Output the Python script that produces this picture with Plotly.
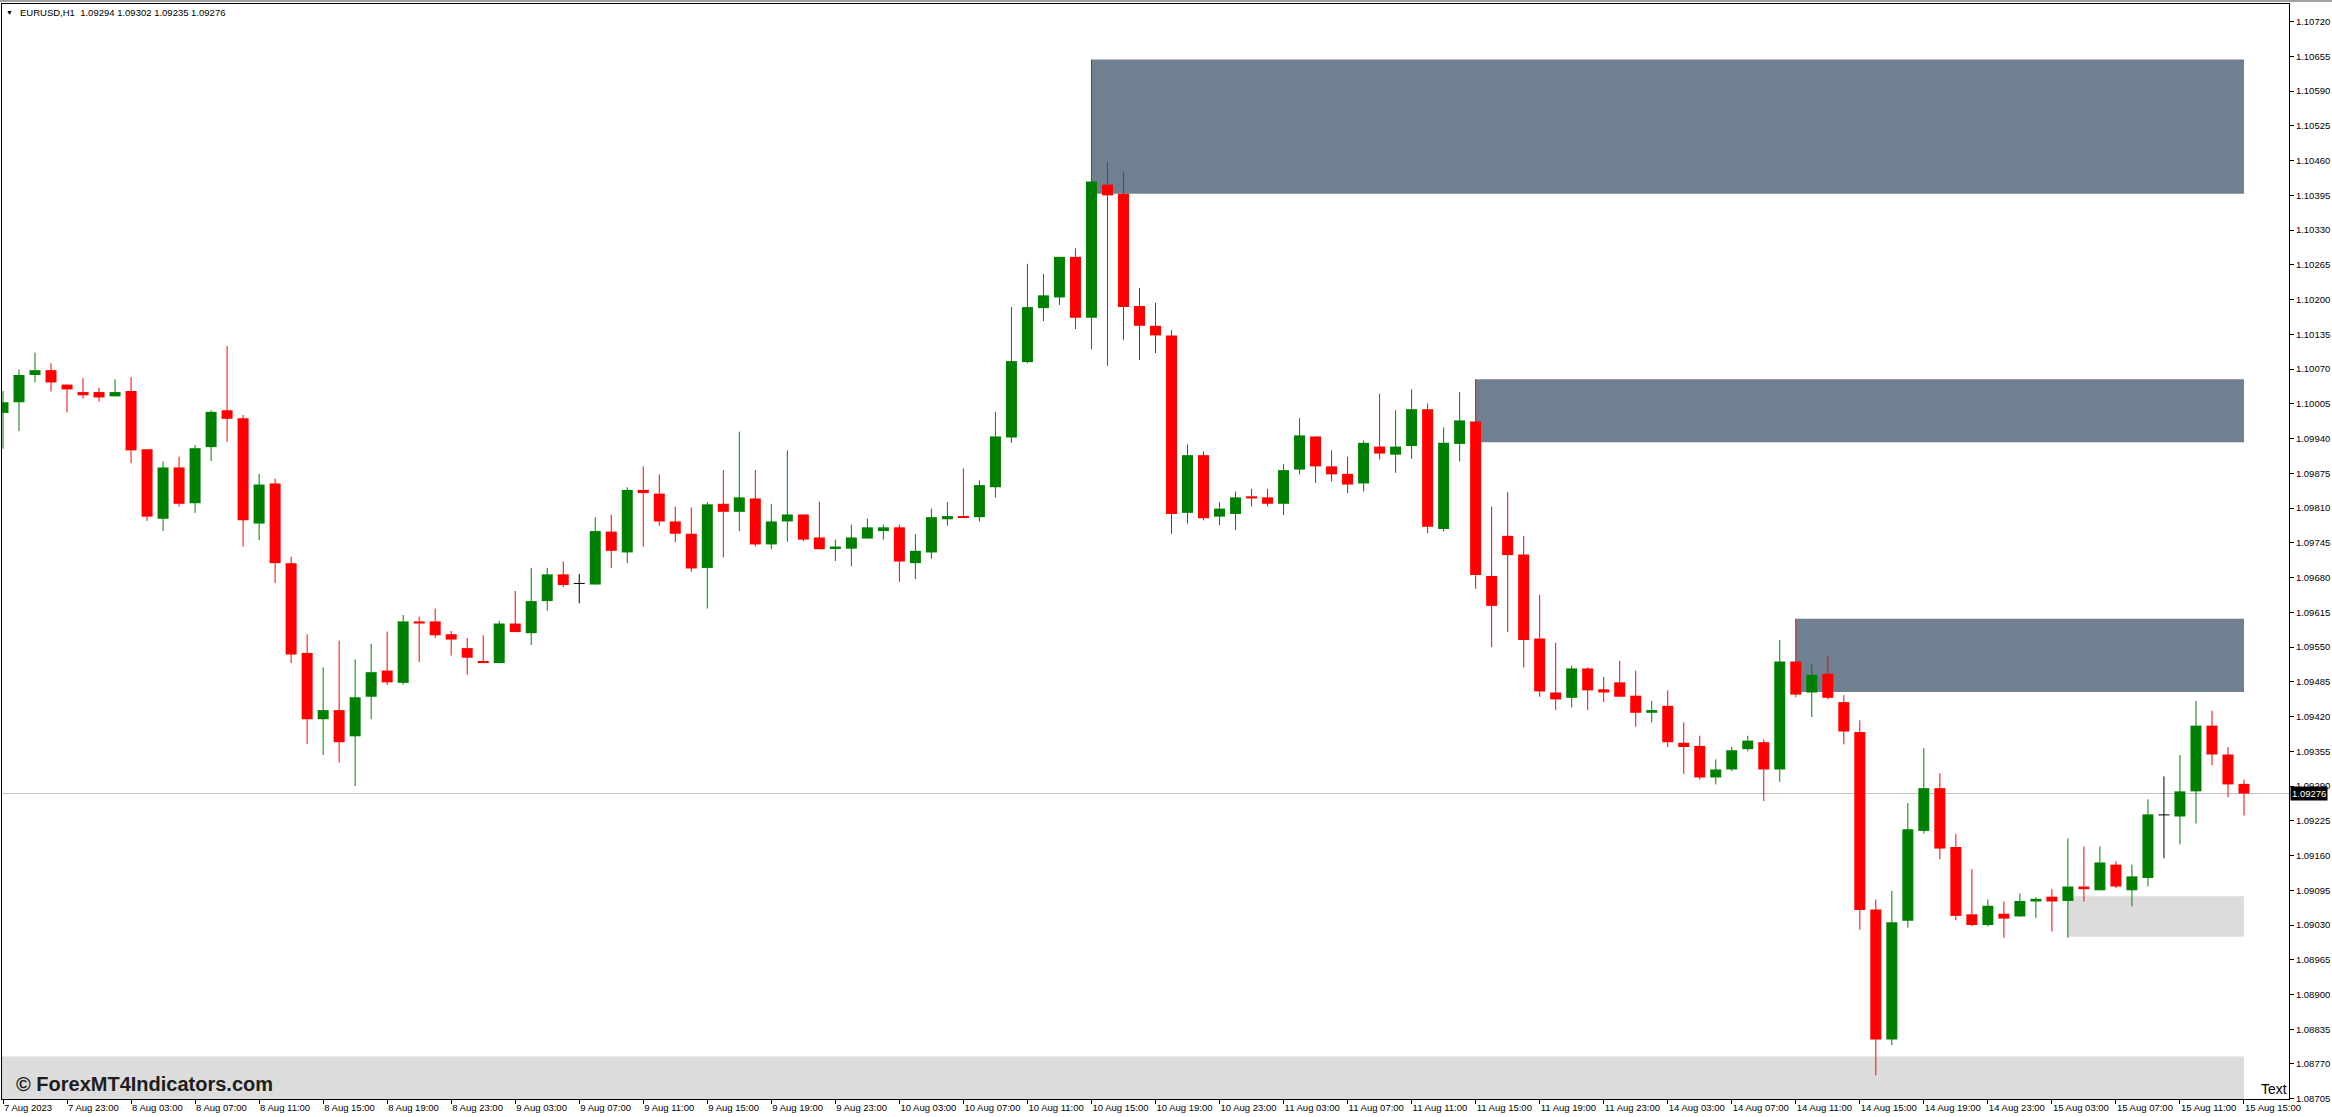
import plotly.graph_objects as go

# ---------------- data (EURUSD H1) ----------------
opens = [1.09988, 1.10008, 1.10059, 1.10068, 1.10041, 1.10027, 1.10027, 1.10019, 1.10029, 1.09920,
         1.09790, 1.09886, 1.09819, 1.09924, 1.09993, 1.09978, 1.09781, 1.09856, 1.09707, 1.09539,
         1.09415, 1.09432, 1.09383, 1.09457, 1.09506, 1.09483, 1.09598, 1.09598, 1.09574, 1.09548,
         1.09524, 1.09520, 1.09594, 1.09576, 1.09636, 1.09686, 1.09669, 1.09667, 1.09766, 1.09727,
         1.09844, 1.09837, 1.09785, 1.09762, 1.09698, 1.09818, 1.09803, 1.09828, 1.09742, 1.09785,
         1.09798, 1.09755, 1.09735, 1.09734, 1.09753, 1.09767, 1.09774, 1.09707, 1.09727, 1.09789,
         1.09795, 1.09793, 1.09849, 1.09942, 1.10083, 1.10184, 1.10204, 1.10280, 1.10166, 1.10415,
         1.10398, 1.10188, 1.10151, 1.10133, 1.09801, 1.09909, 1.09794, 1.09799, 1.09832, 1.09830,
         1.09818, 1.09882, 1.09944, 1.09888, 1.09874, 1.09856, 1.09925, 1.09910, 1.09926, 1.09995,
         1.09771, 1.09930, 1.09972, 1.09683, 1.09758, 1.09723, 1.09566, 1.09465, 1.09455, 1.09510,
         1.09471, 1.09484, 1.09459, 1.09427, 1.09440, 1.09371, 1.09365, 1.09306, 1.09321, 1.09359,
         1.09372, 1.09321, 1.09523, 1.09465, 1.09500, 1.09447, 1.09391, 1.09059, 1.08816, 1.09038,
         1.09206, 1.09286, 1.09176, 1.09050, 1.09030, 1.09051, 1.09046, 1.09074, 1.09083, 1.09075,
         1.09102, 1.09095, 1.09143, 1.09095, 1.09118, 1.09236, 1.09233, 1.09280, 1.09403, 1.09349,
         1.09294]
highs = [1.10029, 1.10069, 1.10101, 1.10081, 1.10041, 1.10053, 1.10035, 1.10051, 1.10055, 1.09920,
         1.09897, 1.09906, 1.09928, 1.09993, 1.10113, 1.09984, 1.09874, 1.09865, 1.09719, 1.09574,
         1.09512, 1.09562, 1.09527, 1.09556, 1.09579, 1.09610, 1.09607, 1.09622, 1.09580, 1.09567,
         1.09572, 1.09599, 1.09655, 1.09698, 1.09698, 1.09710, 1.09687, 1.09793, 1.09798, 1.09849,
         1.09888, 1.09873, 1.09813, 1.09811, 1.09821, 1.09881, 1.09953, 1.09881, 1.09818, 1.09918,
         1.09798, 1.09822, 1.09751, 1.09779, 1.09790, 1.09779, 1.09779, 1.09761, 1.09809, 1.09821,
         1.09884, 1.09862, 1.09990, 1.10186, 1.10267, 1.10248, 1.10280, 1.10296, 1.10649, 1.10458,
         1.10439, 1.10222, 1.10194, 1.10143, 1.09929, 1.09916, 1.09821, 1.09841, 1.09846, 1.09846,
         1.09892, 1.09978, 1.09944, 1.09918, 1.09906, 1.09936, 1.10024, 1.09993, 1.10032, 1.10006,
         1.09961, 1.10027, 1.10051, 1.09813, 1.09840, 1.09758, 1.09648, 1.09558, 1.09515, 1.09512,
         1.09494, 1.09524, 1.09506, 1.09449, 1.09469, 1.09409, 1.09384, 1.09340, 1.09363, 1.09384,
         1.09377, 1.09563, 1.09603, 1.09519, 1.09534, 1.09460, 1.09413, 1.09078, 1.09094, 1.09258,
         1.09361, 1.09314, 1.09200, 1.09134, 1.09078, 1.09074, 1.09089, 1.09082, 1.09097, 1.09192,
         1.09177, 1.09177, 1.09149, 1.09143, 1.09265, 1.09308, 1.09348, 1.09449, 1.09431, 1.09363,
         1.09302]
lows = [1.09921, 1.09954, 1.10045, 1.10028, 1.09989, 1.10015, 1.10009, 1.10019, 1.09894, 1.09786,
        1.09767, 1.09813, 1.09801, 1.09898, 1.09934, 1.09738, 1.09750, 1.09670, 1.09520, 1.09369,
        1.09348, 1.09334, 1.09290, 1.09415, 1.09479, 1.09480, 1.09522, 1.09567, 1.09534, 1.09498,
        1.09520, 1.09520, 1.09578, 1.09554, 1.09618, 1.09662, 1.09632, 1.09667, 1.09698, 1.09707,
        1.09738, 1.09777, 1.09746, 1.09691, 1.09622, 1.09718, 1.09767, 1.09738, 1.09733, 1.09747,
        1.09748, 1.09733, 1.09711, 1.09701, 1.09753, 1.09751, 1.09672, 1.09677, 1.09715, 1.09777,
        1.09793, 1.09785, 1.09830, 1.09932, 1.10081, 1.10160, 1.10190, 1.10145, 1.10107, 1.10076,
        1.10124, 1.10087, 1.10100, 1.09762, 1.09781, 1.09787, 1.09778, 1.09769, 1.09813, 1.09813,
        1.09797, 1.09873, 1.09857, 1.09860, 1.09838, 1.09841, 1.09901, 1.09876, 1.09902, 1.09763,
        1.09766, 1.09897, 1.09659, 1.09550, 1.09578, 1.09512, 1.09457, 1.09432, 1.09437, 1.09432,
        1.09447, 1.09457, 1.09401, 1.09409, 1.09363, 1.09313, 1.09302, 1.09293, 1.09318, 1.09355,
        1.09262, 1.09298, 1.09456, 1.09419, 1.09452, 1.09368, 1.09021, 1.08749, 1.08805, 1.09025,
        1.09201, 1.09153, 1.09039, 1.09028, 1.09027, 1.09006, 1.09046, 1.09043, 1.09018, 1.09006,
        1.09074, 1.09095, 1.09099, 1.09065, 1.09102, 1.09155, 1.09181, 1.09220, 1.09329, 1.09269,
        1.09235]
closes = [1.10008, 1.10059, 1.10068, 1.10045, 1.10032, 1.10021, 1.10017, 1.10027, 1.09918, 1.09794,
          1.09886, 1.09818, 1.09922, 1.09990, 1.09977, 1.09787, 1.09854, 1.09707, 1.09536, 1.09415,
          1.09432, 1.09372, 1.09456, 1.09503, 1.09484, 1.09598, 1.09594, 1.09572, 1.09564, 1.09530,
          1.09520, 1.09594, 1.09578, 1.09636, 1.09686, 1.09666, 1.09669, 1.09767, 1.09730, 1.09844,
          1.09838, 1.09785, 1.09762, 1.09697, 1.09817, 1.09803, 1.09830, 1.09742, 1.09785, 1.09798,
          1.09751, 1.09733, 1.09738, 1.09755, 1.09774, 1.09774, 1.09710, 1.09730, 1.09793, 1.09795,
          1.09793, 1.09853, 1.09944, 1.10085, 1.10186, 1.10208, 1.10280, 1.10166, 1.10421, 1.10395,
          1.10186, 1.10151, 1.10133, 1.09799, 1.09909, 1.09791, 1.09809, 1.09830, 1.09828, 1.09818,
          1.09881, 1.09946, 1.09888, 1.09873, 1.09854, 1.09932, 1.09912, 1.09925, 1.09995, 1.09775,
          1.09932, 1.09974, 1.09685, 1.09627, 1.09722, 1.09563, 1.09467, 1.09452, 1.09510, 1.09469,
          1.09465, 1.09457, 1.09427, 1.09432, 1.09372, 1.09363, 1.09306, 1.09321, 1.09357, 1.09375,
          1.09321, 1.09523, 1.09461, 1.09498, 1.09455, 1.09392, 1.09058, 1.08816, 1.09035, 1.09209,
          1.09286, 1.09173, 1.09047, 1.09030, 1.09066, 1.09042, 1.09075, 1.09079, 1.09074, 1.09102,
          1.09097, 1.09147, 1.09102, 1.09121, 1.09237, 1.09236, 1.09280, 1.09403, 1.09349, 1.09293,
          1.09276]

time_idx = [0, 4, 8, 12, 16, 20, 24, 28, 32, 36, 40, 44, 48, 52, 56, 60, 64, 68, 72, 76,
            80, 84, 88, 92, 96, 100, 104, 108, 112, 116, 120, 124, 128, 132, 136, 140]
time_labels = ["7 Aug 2023", "7 Aug 23:00", "8 Aug 03:00", "8 Aug 07:00", "8 Aug 11:00",
               "8 Aug 15:00", "8 Aug 19:00", "8 Aug 23:00", "9 Aug 03:00", "9 Aug 07:00",
               "9 Aug 11:00", "9 Aug 15:00", "9 Aug 19:00", "9 Aug 23:00", "10 Aug 03:00",
               "10 Aug 07:00", "10 Aug 11:00", "10 Aug 15:00", "10 Aug 19:00", "10 Aug 23:00",
               "11 Aug 03:00", "11 Aug 07:00", "11 Aug 11:00", "11 Aug 15:00", "11 Aug 19:00",
               "11 Aug 23:00", "14 Aug 03:00", "14 Aug 07:00", "14 Aug 11:00", "14 Aug 15:00",
               "14 Aug 19:00", "14 Aug 23:00", "15 Aug 03:00", "15 Aug 07:00", "15 Aug 11:00",
               "15 Aug 15:00"]

price_ticks = [1.10720, 1.10655, 1.10590, 1.10525, 1.10460, 1.10395, 1.10330, 1.10265,
               1.10200, 1.10135, 1.10070, 1.10005, 1.09940, 1.09875, 1.09810, 1.09745,
               1.09680, 1.09615, 1.09550, 1.09485, 1.09420, 1.09355, 1.09290, 1.09225,
               1.09160, 1.09095, 1.09030, 1.08965, 1.08900, 1.08835, 1.08770, 1.08705]
price_labels = ["%.5f" % v for v in price_ticks]

# supply / demand zones: (first bar, last bar, low, high)
dark_zones = [(68, 140, 1.10398, 1.10649),
              (92, 140, 1.09933, 1.10051),
              (112, 140, 1.09466, 1.09603)]
light_zones = [(-3, 140, 1.08600, 1.08784),
               (129, 140, 1.09008, 1.09084)]

last_price = 1.09276
header = "EURUSD,H1\u00a0\u00a01.09294 1.09302 1.09235 1.09276"

# ---------------- styling ----------------
GREEN = "#008000"
RED = "#FF0000"
BLACK = "#000000"
FONT = "Liberation Sans, Arial, sans-serif"

W, H = 2332, 1117
ML, MR, MT, MB = 2, 43, 4, 18
PW = W - ML - MR
PH = H - MT - MB
BODY_W = 11 / 16

n = len(opens)
idx = list(range(n))

fig = go.Figure()

# wicks
wick = {GREEN: ([], []), RED: ([], []), BLACK: ([], [])}
for i in idx:
    o, h, l, c = opens[i], highs[i], lows[i], closes[i]
    col = GREEN if c > o else (RED if c < o else BLACK)
    xs, ys = wick[col]
    xs += [i, i, None]
    ys += [l, h, None]
for col, (xs, ys) in wick.items():
    fig.add_trace(go.Scatter(x=xs, y=ys, mode="lines", line=dict(color=col, width=1),
                             hoverinfo="skip", showlegend=False))

# bodies
bx, bbase, bh, bcol = [], [], [], []
dx, dy = [], []
for i in idx:
    o, c = opens[i], closes[i]
    if c == o:
        dx += [i - BODY_W / 2, i + BODY_W / 2, None]
        dy += [o, o, None]
        continue
    bx.append(i)
    bbase.append(min(o, c))
    bh.append(abs(c - o))
    bcol.append(GREEN if c > o else RED)
fig.add_trace(go.Bar(x=bx, y=bh, base=bbase, width=BODY_W,
                     marker=dict(color=bcol, line=dict(width=0)),
                     hoverinfo="skip", showlegend=False))
fig.add_trace(go.Scatter(x=dx, y=dy, mode="lines", line=dict(color=BLACK, width=1),
                         hoverinfo="skip", showlegend=False))

shapes = []
for x0, x1, y0, y1 in light_zones:
    shapes.append(dict(type="rect", xref="x", yref="y", x0=x0, x1=x1, y0=y0, y1=y1,
                       fillcolor="#DCDCDC", line=dict(width=0), layer="below"))
for x0, x1, y0, y1 in dark_zones:
    shapes.append(dict(type="rect", xref="x", yref="y", x0=x0, x1=x1, y0=y0, y1=y1,
                       fillcolor="#708090", line=dict(width=0), layer="below"))
shapes.append(dict(type="line", xref="paper", yref="y", x0=0, x1=1, y0=last_price, y1=last_price,
                   line=dict(color="#C0C0C0", width=1), layer="below"))
# thin grey strip at the very top of the window
shapes.append(dict(type="rect", xref="paper", yref="paper", x0=-ML / PW, x1=1 + MR / PW,
                   y0=1 + 2 / PH, y1=1 + MT / PH, fillcolor="#A0A0A0", line=dict(width=0)))

annotations = [
    dict(text="▼", xref="paper", yref="paper", x=7 / PW, y=1 - 9 / PH,
         xanchor="center", yanchor="middle", showarrow=False,
         font=dict(family=FONT, size=7, color=BLACK)),
    dict(text=header, xref="paper", yref="paper", x=16 / PW, y=1 - 9 / PH,
         xanchor="left", yanchor="middle", showarrow=False,
         font=dict(family=FONT, size=9.5, color=BLACK)),
    dict(text="<b>© ForexMT4Indicators.com</b>", xref="paper", yref="paper",
         x=12 / PW, y=15 / PH, xanchor="left", yanchor="middle", showarrow=False,
         font=dict(family=FONT, size=20, color="#1E1E1E")),
    dict(text="Text", xref="paper", yref="paper", x=1, y=0, xanchor="right", yanchor="bottom",
         showarrow=False, font=dict(family=FONT, size=14, color=BLACK)),
    dict(text="%.5f" % last_price, xref="paper", yref="y", x=1, y=last_price,
         xanchor="left", yanchor="middle", xshift=1, showarrow=False, bgcolor=BLACK,
         borderpad=1, font=dict(family=FONT, size=9.5, color="#FFFFFF")),
]

fig.update_layout(
    width=W, height=H, autosize=False,
    margin=dict(l=ML, r=MR, t=MT, b=MB, pad=0, autoexpand=False),
    paper_bgcolor="white", plot_bgcolor="white",
    barmode="overlay", showlegend=False,
    shapes=shapes, annotations=annotations,
    font=dict(family=FONT, size=9.5, color=BLACK),
    xaxis=dict(range=[-1 / 16, (PW - 1) / 16 - 1 / 16], showgrid=False, zeroline=False,
               showline=True, linecolor=BLACK, linewidth=1, mirror=True,
               ticks="outside", ticklen=4, tickcolor=BLACK, tickwidth=1,
               tickvals=time_idx, ticktext=time_labels, ticklabelposition="outside right",
               tickangle=0, automargin=False,
               tickfont=dict(family=FONT, size=9.5, color=BLACK), fixedrange=True),
    yaxis=dict(range=[1.087045, 1.10753], side="right", showgrid=False, zeroline=False,
               showline=True, linecolor=BLACK, linewidth=1, mirror=True,
               ticks="outside", ticklen=4, tickcolor=BLACK, tickwidth=1,
               tickvals=price_ticks, ticktext=price_labels, automargin=False,
               tickfont=dict(family=FONT, size=9.5, color=BLACK), fixedrange=True),
)

fig.write_html("out.html", config={"displayModeBar": False, "responsive": False},
               post_script="document.body.style.margin='0';document.body.style.overflow='hidden';")
